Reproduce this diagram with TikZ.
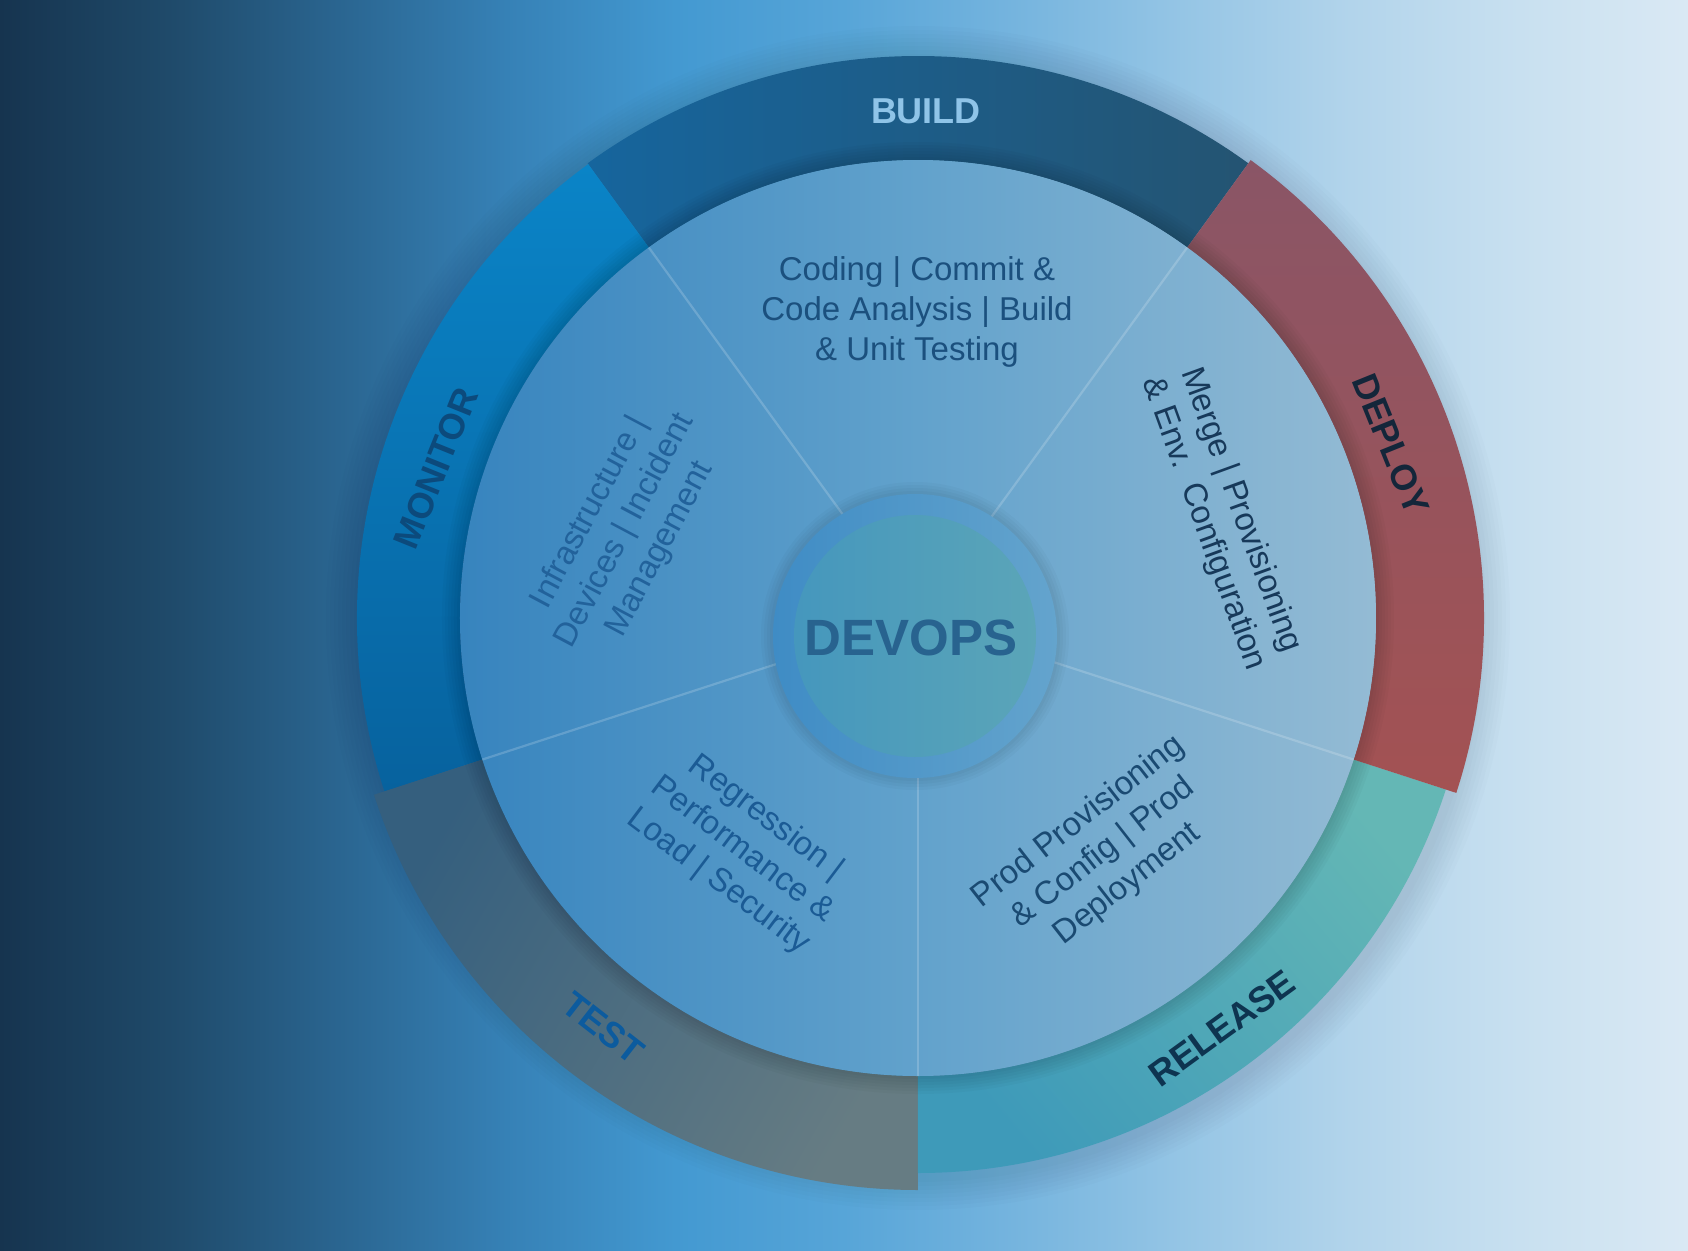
\documentclass[tikz,border=0pt]{standalone}
\usepackage{fontspec}
\setmainfont{Liberation Sans}
\usetikzlibrary{positioning}

% backdrop, dark navy on the left to pale blue on the right
\definecolor{bgA}{HTML}{16344F}
\definecolor{bgB}{HTML}{1F4A6A}
\definecolor{bgC}{HTML}{2A6590}
\definecolor{bgD}{HTML}{3681B6}
\definecolor{bgE}{HTML}{4399D1}
\definecolor{bgF}{HTML}{57A5D8}
\definecolor{bgG}{HTML}{75B4DE}
\definecolor{bgH}{HTML}{95C5E5}
\definecolor{bgI}{HTML}{B2D4EB}
\definecolor{bgJ}{HTML}{C8E0F0}
\definecolor{bgK}{HTML}{DAE9F4}
\pgfdeclarehorizontalshading{backdrop}{100bp}{color(0bp)=(bgA); color(25bp)=(bgA); color(30bp)=(bgB); color(35bp)=(bgC); color(40bp)=(bgD); color(45bp)=(bgE); color(50bp)=(bgF); color(55bp)=(bgG); color(60bp)=(bgH); color(65bp)=(bgI); color(70bp)=(bgJ); color(75bp)=(bgK); color(100bp)=(bgK)}

% ring parts
\definecolor{buildA}{HTML}{16659D}
\definecolor{buildB}{HTML}{245472}
\definecolor{monA}{HTML}{0A84C7}
\definecolor{monB}{HTML}{07629E}
\definecolor{testA}{HTML}{355F7E}
\definecolor{testB}{HTML}{667C83}
\definecolor{relA}{HTML}{64B7B5}
\definecolor{relB}{HTML}{3E9AB9}
\definecolor{depA}{HTML}{8A5566}
\definecolor{depB}{HTML}{A35253}
% pie and hub
\definecolor{pieL}{HTML}{3784BE}
\definecolor{pieM}{HTML}{62A2CC}
\definecolor{pieR}{HTML}{94BBD4}
\definecolor{hubL}{HTML}{3F8CC5}
\definecolor{hubR}{HTML}{64A4CD}
\definecolor{coreL}{HTML}{4597BD}
\definecolor{coreR}{HTML}{5BA5B8}
% texts
\definecolor{devopsT}{HTML}{28638F}
\definecolor{buildT}{HTML}{8FC4E8}
\definecolor{monT}{HTML}{0C4A7C}
\definecolor{depT}{HTML}{14263A}
\definecolor{relT}{HTML}{0E3450}
\definecolor{testT}{HTML}{0C5B9E}
\definecolor{buildP}{HTML}{1B507E}
\definecolor{monP}{HTML}{22629B}
\definecolor{depP}{HTML}{17395A}
\definecolor{relP}{HTML}{1A4A72}
\definecolor{testP}{HTML}{1B5B95}

\tikzset{
  ring label/.style={font=\bfseries\fontsize{18}{18}\selectfont, inner sep=0pt},
  phase text/.style={font=\fontsize{16.5}{19.8}\selectfont, align=center, inner sep=0pt},
  sep line/.style={white, opacity=0.18, line width=1.1pt},
}

\begin{document}
\begin{tikzpicture}[x=0.5pt, y=0.5pt]
% page, wheel centre at the origin
\useasboundingbox (-918,-632) rectangle (770,618);
\shade[shading=backdrop] (-918,-632) rectangle (770,618);

% soft shadow round the wheel
\foreach \k in {1,...,8}
  \fill[black, opacity=0.012] (0,0) circle[radius=560+4*\k];

% outer ring: from/to angle, outer radius, colours, shading angle
\foreach \a/\b/\r/\cA/\cB/\ang in {54/126/562/buildA/buildB/90, 126/198/561/monA/monB/0, 198/270/572/testA/testB/60, 270/342/555/relA/relB/-50, -18/54/566/depA/depB/0}
  \shade[top color=\cA, bottom color=\cB, shading angle=\ang]
    (\a:458) arc[start angle=\a, end angle=\b, radius=458]
    -- (\b:\r) arc[start angle=\b, end angle=\a, radius=\r] -- cycle;

% shadow of the pie on the ring
\foreach \k in {1,...,6}
  \fill[black, opacity=0.022] (0,0) circle[radius=458+3*\k];

% pie
\shade[left color=pieL, right color=pieR, middle color=pieM] (0,0) circle[radius=458];
\foreach \a in {54,126,198,270,342}
  \draw[sep line] (0,0) -- (\a:458);

% hub
\foreach \k in {1,...,4}
  \fill[black, opacity=0.025] (-3,-18) circle[radius=142+3*\k];
\shade[left color=hubL, right color=hubR] (-3,-18) circle[radius=142];
\shade[left color=coreL, right color=coreR] (-3,-18) circle[radius=121];
\node[font=\bfseries\fontsize{25.5}{25.5}\selectfont, text=devopsT] (hub) at (-7,-20) {DEVOPS};

% ring labels
\node[ring label, text=buildT] (build) at (8,507) {BUILD};
\node[ring label, text=monT, rotate=68] (monitor) at (-482,150) {MONITOR};
\node[ring label, text=depT, rotate=-68] (deploy) at (473,174) {DEPLOY};
\node[ring label, text=relT, rotate=36] (release) at (304,-410) {RELEASE};
\node[ring label, text=testT, rotate=-38] (test) at (-315,-410) {TEST};

% what each phase covers
\node[phase text, text=buildP] (coding) at (-1,306)
  {Coding | Commit \&\\Code Analysis | Build\\\& Unit Testing};
\node[phase text, text=monP, rotate=62] (infra) at (-293,87)
  {Infrastructure |\\Devices | Incident\\Management};
\node[phase text, text=depP, rotate=-70] (merge) at (304,101)
  {Merge | Provisioning\\\& Env.\ \ Configuration};
\node[phase text, text=relP, rotate=38] (prod) at (185,-235)
  {Prod Provisioning\\\& Config | Prod\\Deployment};
\node[phase text, text=testP, rotate=-37] (regress) at (-176,-232)
  {Regression |\\Performance \&\\Load | Security};
\end{tikzpicture}
\end{document}
